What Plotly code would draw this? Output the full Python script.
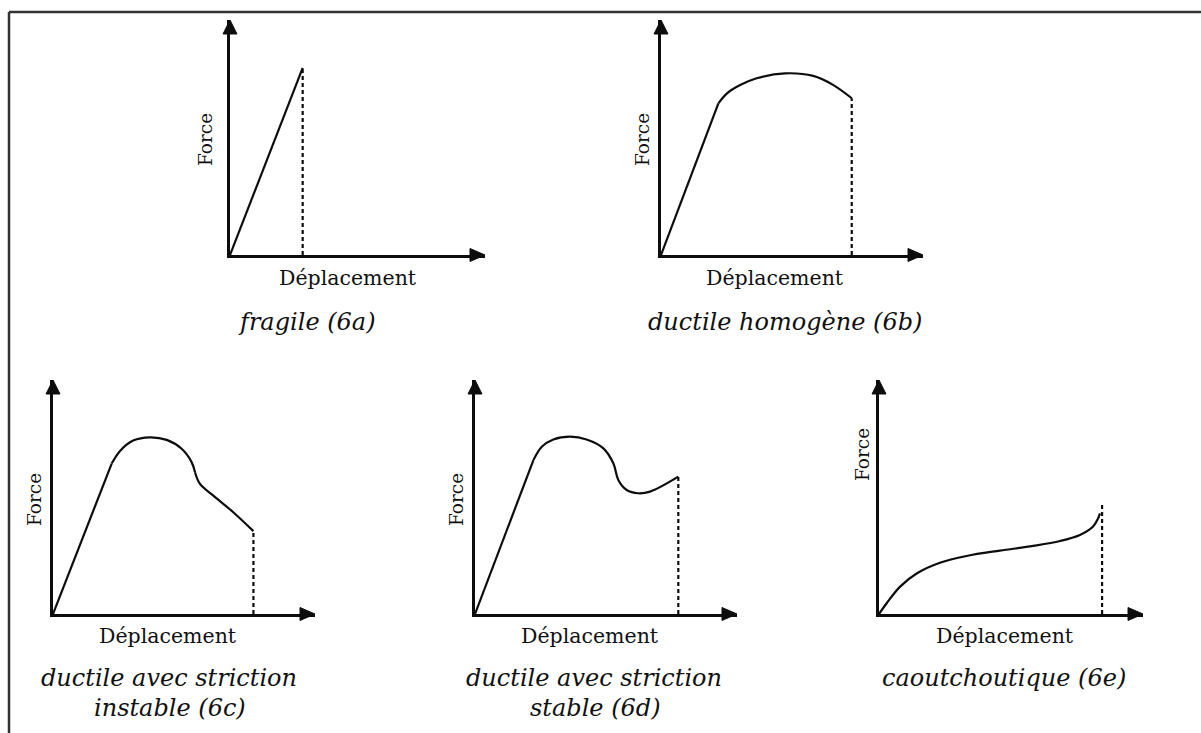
import plotly.graph_objects as go

W, H = 1201, 733

# ---------------- data (Force vs Déplacement, arbitrary units 0-10) ----------------
# (6a) fragile
fragile_x = [0.0, 2.85]
fragile_y = [0.0, 7.96]

# (6b) ductile homogène
homog_lin_x = [0.0, 2.19]
homog_lin_y = [0.0, 6.45]
homog_cur_x = [2.19, 2.51, 3.02, 3.65, 4.73, 5.81, 6.58, 7.28]
homog_cur_y = [6.45, 6.87, 7.23, 7.52, 7.73, 7.62, 7.23, 6.67]

# (6c) ductile avec striction instable
instab_lin_x = [0.0, 2.24]
instab_lin_y = [0.0, 6.43]
instab_cur_x = [2.24, 2.56, 3.06, 3.70, 4.34, 4.91, 5.29, 5.42]
instab_cur_y = [6.43, 6.97, 7.41, 7.55, 7.44, 7.06, 6.49, 6.06]
instab_neck_x = [5.42, 5.61, 6.12, 6.88, 7.65]
instab_neck_y = [6.06, 5.56, 5.06, 4.35, 3.54]

# (6d) ductile avec striction stable
stab_lin_x = [0.0, 2.23]
stab_lin_y = [0.0, 6.58]
stab_cur_x = [2.23, 2.55, 2.99, 3.63, 4.26, 4.90, 5.28, 5.47, 5.79, 6.23, 6.68, 7.76]
stab_cur_y = [6.58, 7.15, 7.46, 7.58, 7.46, 7.08, 6.44, 5.73, 5.30, 5.16, 5.23, 5.87]

# (6e) caoutchoutique
rubber_x = [0.0, 0.29, 0.80, 1.44, 2.31, 3.32, 4.58, 5.84, 6.86, 7.61, 8.11, 8.30, 8.37]
rubber_y = [0.0, 0.46, 1.17, 1.74, 2.19, 2.48, 2.71, 2.91, 3.12, 3.38, 3.74, 4.09, 4.30]

# rupture (dashed) lines
rupture_x = [2.85, 7.28, 7.65, 7.76, 8.45]
rupture_top = [7.96, 6.67, 3.54, 5.87, 4.66]

x_label = "Déplacement"
y_label = "Force"
captions = [
    ["fragile (6a)"],
    ["ductile homogène (6b)"],
    ["ductile avec striction", "instable (6c)"],
    ["ductile avec striction", "stable (6d)"],
    ["caoutchoutique (6e)"],
]

# ---------------- layout geometry (pixels) ----------------
# origin x, origin y, x-arrow tip, y-arrow tip
frames = [
    (230, 255, 485, 20),
    (661, 255, 923, 20),
    (53, 614, 315, 380),
    (475, 614, 737, 380),
    (879, 614, 1143, 380),
]
xlab_pos = [(348, 278), (775, 278), (168, 636), (590, 636), (1005, 636)]
ylab_pos = [(205, 140), (642, 140), (34, 500), (456, 500), (862, 455)]
cap_pos = [
    [(307, 322)],
    [(785, 322)],
    [(169, 678), (170, 708)],
    [(594, 678), (595, 708)],
    [(1004, 678)],
]

INK = "#0d0d0d"
TXT = "#111111"
FONT = "DejaVu Serif"

fig = go.Figure()

series = [
    [(fragile_x, fragile_y, "linear")],
    [(homog_lin_x, homog_lin_y, "linear"), (homog_cur_x, homog_cur_y, "spline")],
    [(instab_lin_x, instab_lin_y, "linear"), (instab_cur_x, instab_cur_y, "spline"),
     (instab_neck_x, instab_neck_y, "spline")],
    [(stab_lin_x, stab_lin_y, "linear"), (stab_cur_x, stab_cur_y, "spline")],
    [(rubber_x, rubber_y, "spline")],
]

shapes = []
annotations = []
layout_axes = {}

for i, (ox, oy, xe, yt) in enumerate(frames):
    n = "" if i == 0 else str(i + 1)
    xa, ya = "x" + n, "y" + n
    layout_axes["xaxis" + n] = dict(
        domain=[ox / W, xe / W], range=[0, 10], anchor=ya,
        showgrid=False, zeroline=False, showticklabels=False, ticks="",
        showline=True, linecolor=INK, linewidth=2.5, fixedrange=True,
    )
    layout_axes["yaxis" + n] = dict(
        domain=[1 - oy / H, 1 - yt / H], range=[0, 10], anchor=xa,
        showgrid=False, zeroline=False, showticklabels=False, ticks="",
        showline=True, linecolor=INK, linewidth=2.5, fixedrange=True,
    )
    for (sx, sy, shp) in series[i]:
        fig.add_trace(go.Scatter(
            x=sx, y=sy, mode="lines", xaxis=xa, yaxis=ya,
            line=dict(color=INK, width=2.2, shape=shp, smoothing=1.0),
            showlegend=False, hoverinfo="skip", cliponaxis=False,
        ))
    # rupture dashed line
    fig.add_trace(go.Scatter(
        x=[rupture_x[i], rupture_x[i]], y=[0, rupture_top[i]], mode="lines",
        xaxis=xa, yaxis=ya, line=dict(color=INK, width=2.2, dash="4px,3px"),
        showlegend=False, hoverinfo="skip", cliponaxis=False,
    ))
    # arrow heads (paper-anchored so they are not clipped)
    shapes.append(dict(
        type="path", xref="paper", yref="paper", xsizemode="pixel", ysizemode="pixel",
        xanchor=xe / W, yanchor=1 - oy / H, path="M0,0 L-15,6.5 L-15,-6.5 Z",
        fillcolor=INK, line=dict(color=INK, width=1),
    ))
    shapes.append(dict(
        type="path", xref="paper", yref="paper", xsizemode="pixel", ysizemode="pixel",
        xanchor=ox / W, yanchor=1 - yt / H, path="M0,0 L-7,-14 L7,-14 Z",
        fillcolor=INK, line=dict(color=INK, width=1),
    ))
    # labels
    lx, ly = xlab_pos[i]
    annotations.append(dict(
        text=x_label, x=lx / W, y=1 - ly / H, xref="paper", yref="paper",
        xanchor="center", yanchor="middle", showarrow=False,
        font=dict(family=FONT, size=20.5, color=TXT),
    ))
    fx, fy = ylab_pos[i]
    annotations.append(dict(
        text=y_label, x=fx / W, y=1 - fy / H, xref="paper", yref="paper",
        xanchor="center", yanchor="middle", showarrow=False, textangle=-90,
        font=dict(family=FONT, size=18.5, color=TXT),
    ))
    for line_txt, (cx, cy) in zip(captions[i], cap_pos[i]):
        annotations.append(dict(
            text="<i>" + line_txt + "</i>", x=cx / W, y=1 - cy / H,
            xref="paper", yref="paper", xanchor="center", yanchor="middle",
            showarrow=False, font=dict(family=FONT, size=24, color=TXT),
        ))

# outer frame (top and left edges)
shapes.append(dict(type="line", xref="paper", yref="paper",
                   x0=9 / W, y0=1 - 12 / H, x1=1.0, y1=1 - 12 / H,
                   line=dict(color="#333333", width=2.5)))
shapes.append(dict(type="line", xref="paper", yref="paper",
                   x0=9 / W, y0=1 - 12 / H, x1=9 / W, y1=0.0,
                   line=dict(color="#333333", width=2.5)))

fig.update_layout(
    width=W, height=H, margin=dict(l=0, r=0, t=0, b=0),
    paper_bgcolor="white", plot_bgcolor="rgba(0,0,0,0)",
    shapes=shapes, annotations=annotations, showlegend=False,
    **layout_axes,
)

fig.write_html("out.html", config={"displayModeBar": False})
